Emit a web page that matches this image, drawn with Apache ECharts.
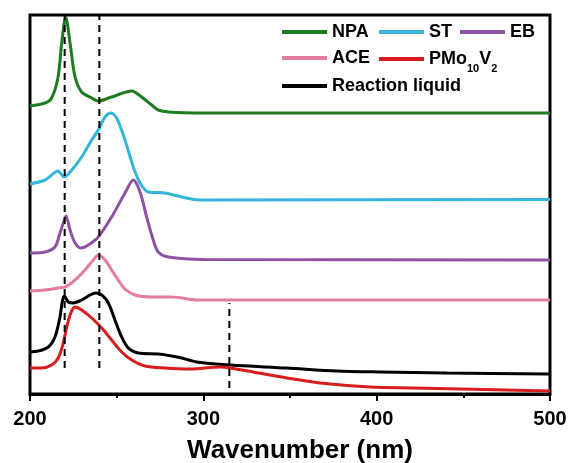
<!DOCTYPE html>
<html><head><meta charset="utf-8">
<script src="https://cdn.jsdelivr.net/npm/echarts@6/dist/echarts.min.js"></script>
<style>html,body{margin:0;padding:0;background:#fff}#c{width:571px;height:463px}</style>
</head><body><div id="c"></div>
<script>
// x axis ticks (nm)
const xTicks = [200, 300, 400, 500];

// NPA
const npaX = [200, 208.7, 212.5, 216.2, 218.3, 220.6, 223.1, 226, 229.8, 235.6, 239.4, 247.1, 258.7, 264.4, 270.2, 274, 279.8, 300, 500];
const npaY = [2.88, 2.91, 2.96, 3.17, 3.51, 3.77, 3.51, 3.17, 3.02, 2.96, 2.93, 2.97, 3.03, 2.97, 2.89, 2.84, 2.82, 2.81, 2.81];
// ST
const stX = [200, 208.7, 212.5, 216, 219.8, 224.1, 229.8, 235.6, 239.4, 243.3, 246.7, 250, 254.8, 259.6, 263.5, 268.2, 277.9, 287.5, 298, 500];
const stY = [2.10, 2.14, 2.19, 2.23, 2.17, 2.24, 2.37, 2.54, 2.64, 2.77, 2.81, 2.76, 2.54, 2.27, 2.11, 2.02, 2.01, 1.97, 1.94, 1.945];
// EB
const ebX = [200, 208.7, 214.4, 217.3, 219.8, 220.8, 223.1, 226, 229.4, 233.6, 239.4, 247.1, 254.8, 259.6, 263.5, 267.3, 271.1, 274, 279.8, 300, 500];
const ebY = [1.41, 1.42, 1.47, 1.61, 1.74, 1.78, 1.64, 1.51, 1.46, 1.49, 1.57, 1.77, 2.01, 2.14, 2.02, 1.77, 1.54, 1.42, 1.37, 1.345, 1.34];
// ACE
const aceX = [200, 208.7, 216.3, 220.2, 226, 231.7, 236.5, 239.4, 243.3, 247.1, 250.9, 254.8, 260.6, 270.2, 281.7, 296.9, 500];
const aceY = [1.03, 1.04, 1.06, 1.07, 1.14, 1.24, 1.34, 1.39, 1.34, 1.24, 1.14, 1.05, 0.99, 0.97, 0.97, 0.94, 0.94];
// Reaction liquid
const rxnX = [200, 204.8, 210.6, 214.4, 217.3, 218.6, 219.8, 222.1, 225, 229.8, 234.6, 237.9, 241.4, 245.2, 249, 252.9, 256.7, 262.5, 274, 281.7, 287.5, 296.2, 315.4, 348.1, 376.9, 401.9, 440.4, 500];
const rxnY = [0.42, 0.43, 0.47, 0.57, 0.77, 0.92, 0.98, 0.92, 0.91, 0.94, 0.99, 1.01, 0.99, 0.91, 0.74, 0.57, 0.46, 0.41, 0.40, 0.38, 0.36, 0.32, 0.29, 0.26, 0.23, 0.22, 0.21, 0.20];
// PMo10V2
const pmoX = [200, 206.7, 212.5, 216.3, 219.2, 221.2, 223.1, 225, 226, 229.8, 235.6, 241.4, 247.1, 252.9, 258.7, 266.3, 277.9, 292.3, 309.6, 315.4, 328.8, 348.1, 367.3, 396.2, 421.1, 500];
const pmoY = [0.26, 0.26, 0.29, 0.36, 0.51, 0.67, 0.79, 0.86, 0.87, 0.84, 0.76, 0.66, 0.54, 0.42, 0.34, 0.28, 0.26, 0.25, 0.27, 0.26, 0.22, 0.16, 0.11, 0.07, 0.06, 0.03];
// dashed reference lines
const dashX = [220, 240, 315];
const dashLow = [0.26, 0.26, 0.06];
const dashHigh = [3.79, 3.79, 0.91];

const zip = (xs, ys) => xs.map((x, i) => [x, ys[i]]);
const FONT = '"Liberation Sans", Arial, sans-serif';

const curves = [
  {name: 'NPA', x: npaX, y: npaY, color: '#1e7b1e'},
  {name: 'ST', x: stX, y: stY, color: '#35b5da'},
  {name: 'EB', x: ebX, y: ebY, color: '#8d52a3'},
  {name: 'ACE', x: aceX, y: aceY, color: '#e57c9f'},
  {name: 'Reaction liquid', x: rxnX, y: rxnY, color: '#000000'},
  {name: 'PMo10V2', x: pmoX, y: pmoY, color: '#d81d1d'}
];

const series = curves.map(c => ({
  name: c.name, type: 'line', data: zip(c.x, c.y), showSymbol: false, symbol: 'none',
  smooth: 0.3, lineStyle: {color: c.color, width: 3}, itemStyle: {color: c.color}, z: 3
}));
dashX.forEach((x, i) => series.push({
  name: 'dash' + i, type: 'line', data: [[x, dashLow[i]], [x, dashHigh[i]]],
  showSymbol: false, symbol: 'none', silent: true,
  lineStyle: {color: '#000', width: 2, type: [7, 5]}, z: 5
}));

const legendPos = [
  {name: 'NPA', left: 282, top: 21},
  {name: 'ST', left: 379, top: 21},
  {name: 'EB', left: 460, top: 21},
  {name: 'ACE', left: 282, top: 47},
  {name: 'PMo10V2', left: 379, top: 48},
  {name: 'Reaction liquid', left: 282, top: 75}
];
const legends = legendPos.map(l => ({
  data: [l.name], left: l.left, top: l.top, padding: 0,
  icon: 'rect', itemWidth: 45, itemHeight: 4, itemGap: 0,
  formatter: n => n === 'PMo10V2' ? '{m|PMo}{s|10}{m|V}{s|2}' : n,
  textStyle: {
    fontFamily: FONT, fontWeight: 'bold', fontSize: 18, color: '#000', lineHeight: 22, padding: [0, 0, 0, 0],
    rich: {
      m: {fontFamily: FONT, fontWeight: 'bold', fontSize: 18, color: '#000'},
      s: {fontFamily: FONT, fontWeight: 'bold', fontSize: 11, color: '#000', padding: [20, 0, 0, 0]}
    }
  }
}));

const chart = echarts.init(document.getElementById('c'), null, {renderer: 'canvas'});
chart.setOption({
  animation: false,
  backgroundColor: '#fff',
  grid: {left: 30, right: 21, top: 15, bottom: 69, show: true, borderColor: '#000', borderWidth: 3,
         backgroundColor: 'transparent', containLabel: false, outerBoundsMode: 'none'},
  legend: legends,
  xAxis: {
    type: 'value', min: xTicks[0], max: xTicks[xTicks.length - 1], interval: 100,
    name: 'Wavenumber (nm)', nameLocation: 'middle', nameGap: 44,
    nameTextStyle: {fontFamily: FONT, fontWeight: 'bold', fontSize: 26, color: '#000', padding: [0, 0, 0, 20]},
    axisLine: {show: true, lineStyle: {color: '#000', width: 3}},
    axisTick: {show: true, inside: false, length: 7, lineStyle: {color: '#000', width: 2}},
    minorTick: {show: true, splitNumber: 2, length: 4, lineStyle: {color: '#000', width: 2}},
    splitLine: {show: false}, minorSplitLine: {show: false},
    axisLabel: {fontFamily: FONT, fontWeight: 'bold', fontSize: 20, color: '#000', margin: 15}
  },
  yAxis: {
    type: 'value', min: 0, max: 3.79,
    axisLine: {show: false}, axisTick: {show: false}, axisLabel: {show: false}, splitLine: {show: false}
  },
  series: series
});
</script></body></html>
